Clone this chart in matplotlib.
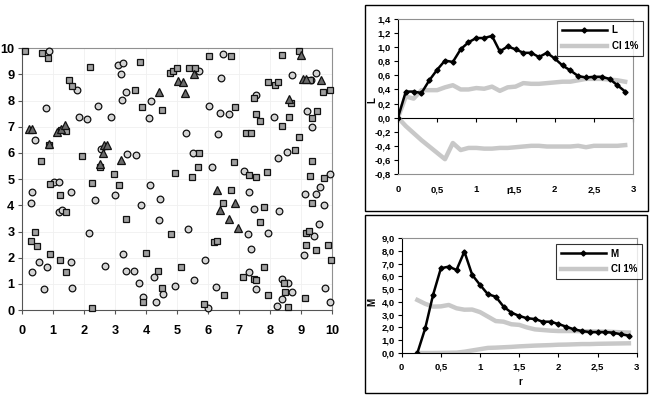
import matplotlib.pyplot as plt
from matplotlib.patches import Rectangle
from matplotlib.ticker import FuncFormatter

plt.rcParams['font.family'] = ['Liberation Sans', 'DejaVu Sans']

# --- point pattern (three marks) ---
circ_x = [0.87, 1.76, 0.77, 1.84, 2.09, 2.44, 2.86, 3.11, 3.26, 3.18, 3.35, 3.24, 4.17, 4.11, 0.42, 2.55, 3.39, 3.69,
          6.50, 5.72, 6.43, 8.72, 9.48, 9.31, 7.56, 6.04, 6.40, 6.69, 8.12, 9.20, 9.35, 5.30, 6.33, 5.51, 6.13, 8.26,
          8.54, 7.16, 9.94,
          1.04, 1.18, 0.32, 0.29, 1.58, 1.18, 1.28, 3.01, 2.37, 4.12, 3.83, 4.45, 4.43, 2.17, 0.56, 0.32, 0.81, 1.59,
          0.71, 1.62, 2.68, 3.27, 3.35, 3.60, 3.76, 3.91, 4.27, 4.54, 4.32, 4.95,
          7.32, 7.48, 8.30, 7.95, 7.30, 5.37, 7.40, 5.91, 5.56, 7.32, 7.56, 6.25, 6.01, 8.40, 8.59, 8.71, 8.38, 8.21,
          9.76, 9.93, 9.42, 9.59, 9.10, 9.74, 9.14, 9.50, 9.62]
circ_y = [9.91, 8.40, 7.72, 7.38, 7.28, 7.80, 7.37, 9.34, 9.44, 9.02, 8.32, 8.04, 7.98, 7.32, 6.48, 6.14, 5.95, 5.92,
          9.77, 9.11, 8.88, 8.97, 9.05, 8.80, 8.21, 7.79, 7.51, 7.47, 7.37, 7.60, 6.98, 6.77, 6.72, 5.98, 5.48, 5.81,
          6.03, 5.30, 5.19,
          4.90, 4.89, 4.50, 4.08, 4.52, 3.75, 3.82, 4.41, 4.21, 4.78, 4.01, 4.25, 3.44, 2.93, 1.84, 1.44, 1.63, 1.82,
          0.80, 0.85, 1.67, 2.16, 1.49, 1.50, 1.04, 0.51, 1.27, 0.61, 0.29, 0.93,
          4.50, 3.87, 3.80, 2.96, 2.89, 3.08, 2.34, 1.91, 1.15, 1.44, 0.79, 0.90, 0.09, 1.20, 1.04, 0.70, 0.41, 0.15,
          0.83, 0.31, 2.81, 3.28, 2.11, 4.02, 4.44, 4.45, 4.69]

sq_x = [0.10, 0.65, 0.83, 2.19, 1.53, 1.60, 3.80, 3.63, 3.88, 4.51, 4.77, 4.88, 4.99, 0.87, 1.26, 1.43, 0.62, 1.94,
        2.52, 2.97, 4.94,
        6.04, 6.75, 8.39, 8.94, 5.39, 5.57, 7.94, 8.16, 8.26, 9.29, 9.72, 9.94, 7.50, 8.67, 6.86, 7.54, 7.68, 8.61,
        8.39, 9.52, 9.34, 7.21, 7.38, 8.93, 5.71, 5.69, 6.85, 8.82, 9.36, 5.48, 7.33, 7.54, 7.90, 9.30, 9.75,
        0.90, 1.23, 1.43, 2.27, 3.13, 3.35, 4.80, 0.42, 0.30, 0.49, 0.89, 1.22, 1.43, 2.26, 3.99, 3.91, 4.39, 4.53,
        6.74, 6.49, 7.80, 7.69, 6.20, 6.30, 5.14, 7.82, 7.13, 7.50, 7.55, 6.52, 5.87, 7.94, 8.46, 8.47, 8.57, 9.13,
        9.96, 9.16, 9.27, 9.15, 9.47, 9.88, 9.36]
sq_y = [9.89, 9.80, 9.64, 9.27, 8.78, 8.55, 9.47, 8.40, 7.77, 7.65, 9.05, 9.12, 9.26, 6.30, 6.87, 6.82, 5.70, 5.88,
        5.45, 5.18, 5.22,
        9.72, 9.69, 9.73, 9.89, 9.25, 9.25, 8.70, 8.58, 8.70, 8.78, 8.31, 8.42, 8.08, 7.91, 7.74, 7.48, 7.21, 7.38,
        7.02, 7.60, 7.35, 6.78, 6.76, 6.59, 5.98, 5.45, 5.64, 6.13, 5.71, 5.08, 5.15, 5.08, 5.29, 5.13, 5.06,
        4.81, 4.39, 3.73, 4.86, 4.78, 3.46, 2.89, 2.99, 2.62, 2.46, 2.16, 1.91, 1.45, 0.09, 2.18, 0.31, 1.50, 0.85,
        4.58, 4.07, 3.92, 3.35, 2.61, 2.65, 1.65, 1.64, 1.26, 1.20, 1.15, 0.56, 0.25, 0.57, 1.03, 0.70, 0.13, 0.48,
        1.91, 2.93, 3.02, 2.48, 2.30, 2.47, 4.08]

tri_x = [4.41, 5.04, 5.20, 5.25, 0.23, 0.33, 0.87, 1.14, 1.27, 1.38, 2.60, 2.66, 2.73, 2.52, 3.20, 5.55, 9.00, 9.06,
         9.17, 9.64, 8.62, 6.28, 6.87, 6.39, 6.67, 6.98]
tri_y = [8.32, 8.75, 8.72, 8.30, 6.90, 6.90, 6.36, 6.79, 6.90, 7.05, 6.01, 6.32, 6.32, 5.57, 5.73, 9.03, 9.73, 8.82,
         8.82, 8.78, 8.05, 4.58, 4.10, 3.84, 3.49, 3.14]

# --- L function ---
r_L = [0.0, 0.1, 0.2, 0.3, 0.4, 0.5, 0.6, 0.7, 0.8, 0.9, 1.0, 1.1, 1.2, 1.3, 1.4,
       1.5, 1.6, 1.7, 1.8, 1.9, 2.0, 2.1, 2.2, 2.3, 2.4, 2.5, 2.6, 2.7, 2.8, 2.9]
L_vals = [0.0, 0.37, 0.37, 0.35, 0.53, 0.68, 0.81, 0.79, 0.97, 1.07, 1.13, 1.13, 1.16, 0.94, 1.01,
          0.97, 0.92, 0.92, 0.86, 0.92, 0.84, 0.74, 0.67, 0.59, 0.57, 0.58, 0.58, 0.55, 0.46, 0.37]
L_ci_hi = [0.0, 0.30, 0.27, 0.39, 0.39, 0.39, 0.43, 0.46, 0.40, 0.40, 0.42, 0.41, 0.44, 0.38, 0.43,
           0.44, 0.49, 0.48, 0.48, 0.49, 0.50, 0.51, 0.51, 0.53, 0.55, 0.55, 0.55, 0.54, 0.53, 0.51]
L_ci_lo = [0.0, -0.12, -0.22, -0.32, -0.41, -0.50, -0.59, -0.36, -0.46, -0.43, -0.43, -0.44, -0.44, -0.43, -0.43,
           -0.42, -0.41, -0.40, -0.40, -0.41, -0.41, -0.41, -0.41, -0.40, -0.42, -0.40, -0.40, -0.40, -0.40, -0.39]

# --- M function ---
r_M = [0.2, 0.3, 0.4, 0.5, 0.6, 0.7, 0.8, 0.9, 1.0, 1.1, 1.2, 1.3, 1.4, 1.5,
       1.6, 1.7, 1.8, 1.9, 2.0, 2.1, 2.2, 2.3, 2.4, 2.5, 2.6, 2.7, 2.8, 2.9]
M_vals = [0.0, 1.93, 4.54, 6.63, 6.76, 6.50, 7.94, 6.11, 5.33, 4.60, 4.41, 3.63, 3.16, 2.90,
          2.72, 2.66, 2.45, 2.45, 2.27, 2.06, 1.85, 1.72, 1.64, 1.64, 1.64, 1.59, 1.46, 1.36]
M_ci_hi = [4.15, 3.85, 3.63, 3.65, 3.76, 3.50, 3.39, 3.40, 3.20, 2.85, 2.50, 2.45, 2.25, 2.20,
           2.00, 1.85, 1.80, 1.75, 1.72, 1.72, 1.72, 1.70, 1.70, 1.68, 1.67, 1.65, 1.62, 1.60]
M_ci_lo = [0.0, 0.0, 0.0, 0.01, 0.02, 0.03, 0.10, 0.20, 0.30, 0.40, 0.42, 0.45, 0.48, 0.52,
           0.55, 0.58, 0.60, 0.62, 0.65, 0.66, 0.68, 0.70, 0.70, 0.72, 0.73, 0.74, 0.75, 0.76]

comma = FuncFormatter(lambda v, p: ("%.1f" % v).replace(".", ","))
comma_x = FuncFormatter(lambda v, p: ("%g" % v).replace(".", ","))

fig = plt.figure(figsize=(6.52, 3.95), dpi=100)

# ---------- scatter ----------
ax = fig.add_axes([0.0337, 0.215, 0.4755, 0.663])
ax.plot(circ_x, circ_y, 'o', ms=4.8, mfc='#d4d4d4', mec='#111111', mew=0.9, clip_on=False, zorder=3)
ax.plot(sq_x, sq_y, 's', ms=4.9, mfc='#a0a0a0', mec='#111111', mew=0.9, clip_on=False, zorder=3)
ax.plot(tri_x, tri_y, '^', ms=5.3, mfc='#6a6a6a', mec='#111111', mew=0.9, clip_on=False, zorder=3)
ax.set_xlim(0, 10)
ax.set_ylim(0, 10)
ax.set_xticks(range(11))
ax.set_yticks(range(11))
ax.grid(True, color='#f0f0f0', lw=0.6)
ax.set_axisbelow(True)
for s in ['top', 'right']:
    ax.spines[s].set_color('#909090')
for s in ['left', 'bottom']:
    ax.spines[s].set_color('#555555')
ax.tick_params(direction='out', length=3, width=0.8, color='#555555', labelsize=9.2, pad=2.5)
for t in ax.get_xticklabels() + ax.get_yticklabels():
    t.set_fontweight('bold')
ax.tick_params(axis='x', pad=8)

# ---------- L chart ----------
fig.add_artist(Rectangle((0.5598, 0.4658), 0.434, 0.5215, transform=fig.transFigure,
                         fill=False, ec='black', lw=1.0))
a1 = fig.add_axes([0.6104, 0.5595, 0.3605, 0.3924])
a1.plot(r_L, L_ci_hi, color='#c8c8c8', lw=3.2, solid_joinstyle='round', label='CI 1%')
a1.plot(r_L, L_ci_lo, color='#c8c8c8', lw=3.2, solid_joinstyle='round')
a1.plot(r_L, L_vals, color='black', lw=1.8, marker='D', ms=2.6, label='L')
a1.set_xlim(0, 3)
a1.set_ylim(-0.8, 1.4)
a1.set_yticks([-0.8, -0.6, -0.4, -0.2, 0.0, 0.2, 0.4, 0.6, 0.8, 1.0, 1.2, 1.4])
a1.yaxis.set_major_formatter(comma)
a1.set_xticks([0, 0.5, 1, 1.5, 2, 2.5, 3])
a1.xaxis.set_major_formatter(comma_x)
for s in ['top', 'right', 'bottom']:
    a1.spines[s].set_color('#909090')
a1.spines['left'].set_color('black')
a1.tick_params(axis='y', direction='out', length=3, width=0.8, labelsize=6.8, pad=2)
a1.tick_params(axis='x', length=0, labelsize=6.8, pad=8)
zero_ax = a1.secondary_xaxis(0.8 / 2.2)
zero_ax.set_xticks([0, 0.5, 1, 1.5, 2, 2.5, 3])
zero_ax.set_xticklabels([])
zero_ax.tick_params(direction='out', length=3, width=0.8)
zero_ax.spines['bottom'].set_color('black')
for t in a1.get_xticklabels() + a1.get_yticklabels():
    t.set_fontweight('bold')
fig.text(372 / 652, 1 - 100 / 395, 'L', rotation=90, ha='center', va='center', fontsize=7, fontweight='bold')
fig.text(508 / 652, 1 - 191 / 395, 'r', ha='center', va='center', fontsize=7, fontweight='bold')
h, lab = a1.get_legend_handles_labels()
leg = a1.legend([h[1], h[0]], [lab[1], lab[0]], loc='upper left', bbox_to_anchor=(0.677, 0.99),
                fontsize=7, frameon=True, fancybox=False, handlelength=4.6, borderpad=0.5,
                labelspacing=0.6, handletextpad=0.5, borderaxespad=0)
leg.get_frame().set_edgecolor('black')
leg.get_frame().set_linewidth(0.8)
for t in leg.get_texts():
    t.set_fontweight('bold')

# ---------- M chart ----------
fig.add_artist(Rectangle((0.5598, 0.0051), 0.4325, 0.4506, transform=fig.transFigure,
                         fill=False, ec='black', lw=1.0))
a2 = fig.add_axes([0.6161, 0.1063, 0.3605, 0.2912])
a2.plot(r_M, M_ci_hi, color='#c8c8c8', lw=3.2, solid_joinstyle='round', label='CI 1%')
a2.plot(r_M, M_ci_lo, color='#c8c8c8', lw=3.2, solid_joinstyle='round')
a2.plot(r_M, M_vals, color='black', lw=1.8, marker='D', ms=2.6, label='M')
a2.set_xlim(0, 3)
a2.set_ylim(0, 9)
a2.set_yticks(range(10))
a2.yaxis.set_major_formatter(comma)
a2.set_xticks([0, 0.5, 1, 1.5, 2, 2.5, 3])
a2.xaxis.set_major_formatter(comma_x)
for s in ['top', 'right']:
    a2.spines[s].set_color('#909090')
for s in ['left', 'bottom']:
    a2.spines[s].set_color('black')
a2.tick_params(direction='out', length=3, width=0.8, labelsize=6.8, pad=2)
a2.tick_params(axis='x', pad=4)
for t in a2.get_xticklabels() + a2.get_yticklabels():
    t.set_fontweight('bold')
fig.text(372 / 652, 1 - 302 / 395, 'M', rotation=90, ha='center', va='center', fontsize=7, fontweight='bold')
fig.text(520 / 652, 1 - 382 / 395, 'r', ha='center', va='center', fontsize=7, fontweight='bold')
h, lab = a2.get_legend_handles_labels()
leg2 = a2.legend([h[1], h[0]], [lab[1], lab[0]], loc='upper left', bbox_to_anchor=(0.657, 0.95),
                 fontsize=7, frameon=True, fancybox=False, handlelength=4.6, borderpad=0.5,
                 labelspacing=0.6, handletextpad=0.5, borderaxespad=0)
leg2.get_frame().set_edgecolor('black')
leg2.get_frame().set_linewidth(0.8)
for t in leg2.get_texts():
    t.set_fontweight('bold')

fig.savefig('out.png', dpi=100)
